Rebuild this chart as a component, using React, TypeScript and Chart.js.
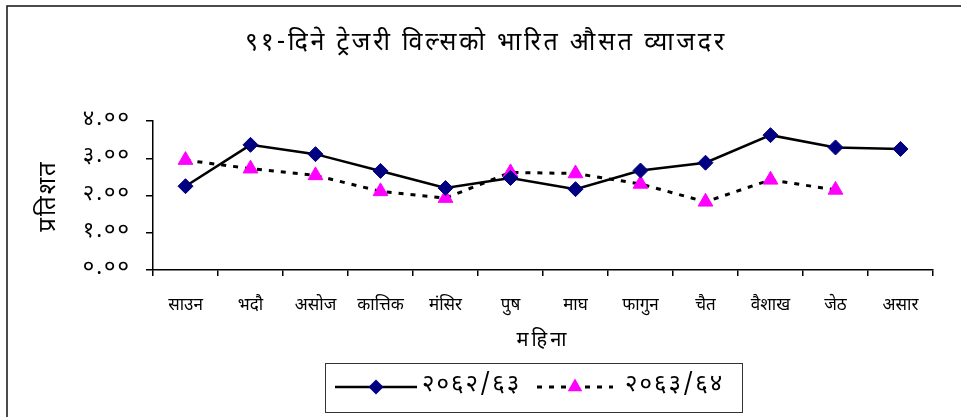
import React, { useEffect, useRef } from "react";
import { Chart, registerables } from "chart.js";

Chart.register(...registerables);

const title = "९१-दिने ट्रेजरी विल्सको भारित औसत व्याजदर";
const yAxisTitle = "प्रतिशत";
const xAxisTitle = "महिना";
const months = ["साउन", "भदौ", "असोज", "कात्तिक", "मंसिर", "पुष", "माघ", "फागुन", "चैत", "वैशाख", "जेठ", "असार"];
const seriesNames = ["२०६२/६३", "२०६३/६४"];
const series2062 = [2.25, 3.36, 3.11, 2.66, 2.2, 2.47, 2.17, 2.67, 2.88, 3.62, 3.29, 3.25];
const series2063 = [2.95, 2.72, 2.54, 2.11, 1.93, 2.62, 2.59, 2.31, 1.83, 2.42, 2.15, null];
const yTicks = [0, 1, 2, 3, 4];

const FONT = "'Noto Sans Devanagari', 'Lohit Devanagari', 'Noto Sans', sans-serif";
const DEV = "०१२३४५६७८९";
const toDev = (s: string) => s.replace(/[0-9]/g, (d) => DEV[+d]);

function marker(ctx: CanvasRenderingContext2D, style: string, r: number, cx: number, cy: number, color: string) {
  ctx.save();
  ctx.fillStyle = color;
  ctx.beginPath();
  if (style === "rectRot") {
    ctx.moveTo(cx, cy - r);
    ctx.lineTo(cx + r, cy);
    ctx.lineTo(cx, cy + r);
    ctx.lineTo(cx - r, cy);
  } else {
    const w = r * Math.sin(Math.PI / 3);
    ctx.moveTo(cx, cy - r);
    ctx.lineTo(cx + w, cy + r / 2);
    ctx.lineTo(cx - w, cy + r / 2);
  }
  ctx.closePath();
  ctx.fill();
  ctx.restore();
}

const decorPlugin = {
  id: "decor",
  afterDraw(chart: any) {
    const ctx = chart.ctx as CanvasRenderingContext2D;
    const ca = chart.chartArea;
    const ys = chart.scales.y;
    ctx.save();
    // outer border (left/top visible)
    ctx.strokeStyle = "#111";
    ctx.lineWidth = 1.5;
    ctx.strokeRect(7, 6, 980, 440);
    ctx.fillStyle = "#000";
    ctx.textBaseline = "middle";
    // y tick labels
    ctx.textAlign = "right";
    ctx.font = `22px ${FONT}`;
    (ctx as any).letterSpacing = "2px";
    ys.ticks.forEach((t: any) => {
      ctx.fillText(toDev(Number(t.value).toFixed(2)), ca.left - 22, ys.getPixelForValue(t.value));
    });
    // title
    ctx.textAlign = "center";
    ctx.font = `25px ${FONT}`;
    (ctx as any).letterSpacing = "2.8px";
    ctx.fillText(title, 486, 45);
    // x axis title
    ctx.font = `20px ${FONT}`;
    (ctx as any).letterSpacing = "3px";
    ctx.fillText(xAxisTitle, (ca.left + ca.right) / 2, 342);
    // y axis title
    ctx.save();
    ctx.translate(51, 196);
    ctx.rotate(-Math.PI / 2);
    ctx.font = `24px ${FONT}`;
    (ctx as any).letterSpacing = "2px";
    ctx.fillText(yAxisTitle, 0, 0);
    ctx.restore();
    // legend box
    (ctx as any).letterSpacing = "0px";
    ctx.strokeStyle = "#333";
    ctx.lineWidth = 1;
    ctx.strokeRect(325.5, 363.5, 417, 49);
    const ly = 387;
    const items = [
      { x0: 335, x1: 417, tx: 422 },
      { x0: 537, x1: 613, tx: 625 },
    ];
    chart.data.datasets.forEach((ds: any, i: number) => {
      const it = items[i];
      ctx.save();
      ctx.strokeStyle = ds.borderColor;
      ctx.lineWidth = ds.borderWidth;
      ctx.setLineDash(ds.borderDash || []);
      ctx.beginPath();
      ctx.moveTo(it.x0, ly);
      ctx.lineTo(it.x1, ly);
      ctx.stroke();
      ctx.restore();
      const cx = (it.x0 + it.x1) / 2;
      marker(ctx, ds.pointStyle, ds.pointRadius, cx, ly, ds.pointBackgroundColor);
      ctx.fillStyle = "#000";
      ctx.textAlign = "left";
      ctx.font = `24px ${FONT}`;
      (ctx as any).letterSpacing = "2px";
      ctx.fillText(ds.label, it.tx, ly);
      (ctx as any).letterSpacing = "0px";
    });
    ctx.restore();
  },
};

export default function App() {
  const ref = useRef<HTMLCanvasElement>(null);
  useEffect(() => {
    if (!ref.current) return;
    const chart = new Chart(ref.current, {
      type: "line",
      data: {
        labels: months,
        datasets: [
          {
            label: seriesNames[0],
            data: series2062,
            borderColor: "#000",
            borderWidth: 2.5,
            pointStyle: "rectRot",
            pointRadius: 7.5,
            pointBackgroundColor: "#000080",
            pointBorderColor: "#000080",
            pointBorderWidth: 1,
            tension: 0,
          },
          {
            label: seriesNames[1],
            data: series2063,
            borderColor: "#000",
            borderWidth: 3,
            borderDash: [5, 7],
            pointStyle: "triangle",
            pointRadius: 8.5,
            pointBackgroundColor: "#FF00FF",
            pointBorderColor: "#FF00FF",
            pointBorderWidth: 1,
            tension: 0,
          },
        ],
      },
      options: {
        animation: false,
        responsive: false,
        maintainAspectRatio: false,
        layout: { padding: { left: 0, right: 28, top: 121, bottom: 0 } },
        plugins: { legend: { display: false }, title: { display: false }, tooltip: { enabled: false } },
        scales: {
          x: {
            type: "category",
            offset: true,
            afterFit: (s: any) => { s.height = 147; },
            grid: { offset: true, drawOnChartArea: false, drawTicks: true, tickLength: 6, color: "#000", lineWidth: 1.5 },
            border: { display: true, color: "#000", width: 1.5 },
            ticks: { color: "#000", font: { family: FONT, size: 17 }, padding: 21, maxRotation: 0, autoSkip: false },
          },
          y: {
            min: 0,
            max: 4,
            afterFit: (s: any) => { s.width = 153; },
            afterBuildTicks: (s: any) => { s.ticks = yTicks.map((v) => ({ value: v })); },
            grid: { drawOnChartArea: false, drawTicks: true, tickLength: 7, color: "#000", lineWidth: 1.5 },
            border: { display: true, color: "#000", width: 1.5 },
            ticks: { display: false },
          },
        },
      },
      plugins: [decorPlugin],
    });
    return () => chart.destroy();
  }, []);
  return (
    <div style={{ position: "fixed", left: 0, top: 0, width: 961, height: 417, background: "#fff" }}>
      <canvas ref={ref} width={961} height={417} style={{ width: 961, height: 417, display: "block" }} />
    </div>
  );
}
